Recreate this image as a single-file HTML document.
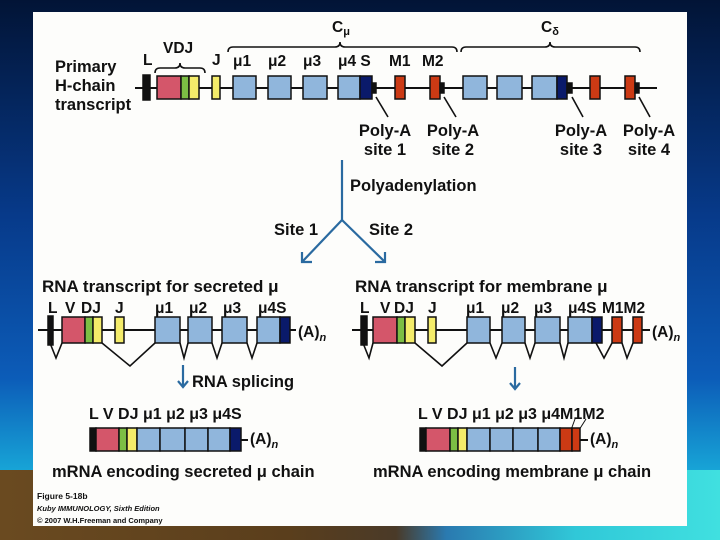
<!DOCTYPE html>
<html><head><meta charset="utf-8"><style>
body{margin:0;width:720px;height:540px;overflow:hidden;background:linear-gradient(180deg,#021436 0%,#073a8a 40%,#0c5cb8 70%,#18a8d8 88%,#3ad8e0 100%);position:relative;font-family:"Liberation Sans",sans-serif}
.brown{position:absolute;left:0;top:470px;width:720px;height:70px;background:linear-gradient(90deg,#6a4a20 0%,#5a3e1c 40%,#4a3a28 55%,#2a7ab0 62%,#30c8d8 80%,#40e0e0 100%)}
svg{position:absolute;left:0;top:0}
text{font-family:"Liberation Sans",sans-serif;font-weight:bold;fill:#111}
</style></head><body>
<div class="brown"></div>
<svg width="720" height="540" viewBox="0 0 720 540">
<rect x="33" y="12" width="654" height="514" fill="#fdfdfb"/>
<g stroke="#111" stroke-width="1.6" fill="none">
<line x1="135" y1="88" x2="657" y2="88" stroke-width="2"/>
<path d="M155 73 q0-5 5-5 h15 q5 0 5-5 q0 5 5 5 h15 q5 0 5 5"/>
<path d="M228 52 q0-5 5-5 h102 q5 0 5-5 q0 5 5 5 h107 q5 0 5 5"/>
<path d="M461 52 q0-5 5-5 h79 q5 0 5-5 q0 5 5 5 h80 q5 0 5 5"/>
<line x1="376" y1="97" x2="388" y2="117"/><line x1="444" y1="97" x2="456" y2="117"/>
<line x1="572" y1="97" x2="583" y2="117"/><line x1="639" y1="97" x2="650" y2="117"/>
<line x1="38" y1="330" x2="296" y2="330" stroke-width="2"/>
<line x1="352" y1="330" x2="650" y2="330" stroke-width="2"/>
<line x1="241" y1="440" x2="248" y2="440" stroke-width="2"/>
<line x1="580" y1="440" x2="588" y2="440" stroke-width="2"/>
<polyline points="50,343 56,358 62,343"/><polyline points="102,343 130,366 155,343"/>
<polyline points="180,343 184,358 188,343"/><polyline points="212,343 217,358 222,343"/><polyline points="247,343 252,358 257,343"/>
<polyline points="363,343 369,358 373,343"/><polyline points="415,343 442,366 467,343"/>
<polyline points="490,343 496,358 502,343"/><polyline points="525,343 530,358 535,343"/><polyline points="560,343 564,358 568,343"/>
<polyline points="596,343 604,358 612,343"/><polyline points="622,343 627,358 633,343"/>
<line x1="571" y1="430" x2="575" y2="419" stroke-width="1"/><line x1="579" y1="430" x2="586" y2="419" stroke-width="1"/>
</g>
<g stroke="#2a6aa0" stroke-width="2.2" fill="none">
<line x1="342" y1="160" x2="342" y2="220"/><line x1="342" y1="220" x2="302" y2="262"/><line x1="342" y1="220" x2="385" y2="262"/>
<polyline points="302,252 302,262 312,262"/><polyline points="375,262 385,262 385,252"/>
<line x1="183" y1="365" x2="183" y2="386"/><polyline points="178,381 183,387 188,381"/>
<line x1="515" y1="367" x2="515" y2="388"/><polyline points="510,383 515,389 520,383"/>
</g>
<g stroke="#111" stroke-width="1.5">
<rect x="143" y="75" width="7" height="25" fill="#111"/>
<rect x="157" y="76" width="24" height="23" fill="#d4566a"/><rect x="181" y="76" width="8" height="23" fill="#7cbe44"/><rect x="189" y="76" width="10" height="23" fill="#f4ec6a"/>
<rect x="212" y="76" width="8" height="23" fill="#f4ec6a"/>
<rect x="233" y="76" width="23" height="23" fill="#90b6dc"/><rect x="268" y="76" width="23" height="23" fill="#90b6dc"/><rect x="303" y="76" width="24" height="23" fill="#90b6dc"/>
<rect x="338" y="76" width="22" height="23" fill="#90b6dc"/><rect x="360" y="76" width="12" height="23" fill="#0a1a6a"/><rect x="372" y="83" width="4" height="10" fill="#111"/>
<rect x="395" y="76" width="10" height="23" fill="#cc3a14"/><rect x="430" y="76" width="10" height="23" fill="#cc3a14"/><rect x="440" y="83" width="4" height="10" fill="#111"/>
<rect x="463" y="76" width="24" height="23" fill="#90b6dc"/><rect x="497" y="76" width="25" height="23" fill="#90b6dc"/><rect x="532" y="76" width="25" height="23" fill="#90b6dc"/><rect x="557" y="76" width="10" height="23" fill="#0a1a6a"/><rect x="567" y="83" width="5" height="10" fill="#111"/>
<rect x="590" y="76" width="10" height="23" fill="#cc3a14"/><rect x="625" y="76" width="10" height="23" fill="#cc3a14"/><rect x="635" y="83" width="4" height="10" fill="#111"/>
<rect x="48" y="316" width="5" height="29" fill="#111"/>
<rect x="62" y="317" width="23" height="26" fill="#d4566a"/><rect x="85" y="317" width="8" height="26" fill="#7cbe44"/><rect x="93" y="317" width="9" height="26" fill="#f4ec6a"/>
<rect x="115" y="317" width="9" height="26" fill="#f4ec6a"/>
<rect x="155" y="317" width="25" height="26" fill="#90b6dc"/><rect x="188" y="317" width="24" height="26" fill="#90b6dc"/><rect x="222" y="317" width="25" height="26" fill="#90b6dc"/><rect x="257" y="317" width="23" height="26" fill="#90b6dc"/><rect x="280" y="317" width="10" height="26" fill="#0a1a6a"/>
<rect x="361" y="316" width="6" height="29" fill="#111"/>
<rect x="373" y="317" width="24" height="26" fill="#d4566a"/><rect x="397" y="317" width="8" height="26" fill="#7cbe44"/><rect x="405" y="317" width="10" height="26" fill="#f4ec6a"/>
<rect x="428" y="317" width="8" height="26" fill="#f4ec6a"/>
<rect x="467" y="317" width="23" height="26" fill="#90b6dc"/><rect x="502" y="317" width="23" height="26" fill="#90b6dc"/><rect x="535" y="317" width="25" height="26" fill="#90b6dc"/><rect x="568" y="317" width="24" height="26" fill="#90b6dc"/><rect x="592" y="317" width="10" height="26" fill="#0a1a6a"/>
<rect x="612" y="317" width="10" height="26" fill="#cc3a14"/><rect x="633" y="317" width="9" height="26" fill="#cc3a14"/>
<rect x="90" y="428" width="6" height="23" fill="#111"/><rect x="96" y="428" width="23" height="23" fill="#d4566a"/><rect x="119" y="428" width="8" height="23" fill="#7cbe44"/><rect x="127" y="428" width="10" height="23" fill="#f4ec6a"/>
<rect x="137" y="428" width="23" height="23" fill="#90b6dc"/><rect x="160" y="428" width="25" height="23" fill="#90b6dc"/><rect x="185" y="428" width="23" height="23" fill="#90b6dc"/><rect x="208" y="428" width="22" height="23" fill="#90b6dc"/><rect x="230" y="428" width="11" height="23" fill="#0a1a6a"/>
<rect x="420" y="428" width="6" height="23" fill="#111"/><rect x="426" y="428" width="24" height="23" fill="#d4566a"/><rect x="450" y="428" width="8" height="23" fill="#7cbe44"/><rect x="458" y="428" width="9" height="23" fill="#f4ec6a"/>
<rect x="467" y="428" width="23" height="23" fill="#90b6dc"/><rect x="490" y="428" width="23" height="23" fill="#90b6dc"/><rect x="513" y="428" width="25" height="23" fill="#90b6dc"/><rect x="538" y="428" width="22" height="23" fill="#90b6dc"/><rect x="560" y="428" width="12" height="23" fill="#cc3a14"/><rect x="572" y="428" width="8" height="23" fill="#cc3a14"/>
</g>
<g font-size="15.5">
<text x="55" y="72" font-size="16.5">Primary</text><text x="55" y="91" font-size="16.5">H-chain</text><text x="55" y="110" font-size="16.5">transcript</text>
<text x="143" y="65">L</text><text x="163" y="53">VDJ</text><text x="212" y="65">J</text>
<text x="233" y="66">μ1</text><text x="268" y="66">μ2</text><text x="303" y="66">μ3</text><text x="338" y="66">μ4 S</text>
<text x="389" y="66">M1</text><text x="422" y="66">M2</text>
<text x="332" y="32">C<tspan font-size="11" dy="3">μ</tspan></text><text x="541" y="32">C<tspan font-size="11" dy="3">δ</tspan></text>
<g text-anchor="middle" font-size="16.5"><text x="385" y="136">Poly-A</text><text x="385" y="155">site 1</text><text x="453" y="136">Poly-A</text><text x="453" y="155">site 2</text>
<text x="581" y="136">Poly-A</text><text x="581" y="155">site 3</text><text x="649" y="136">Poly-A</text><text x="649" y="155">site 4</text></g>
<text x="350" y="191" font-size="16.5">Polyadenylation</text>
<text x="274" y="235" font-size="16.5">Site 1</text><text x="369" y="235" font-size="16.5">Site 2</text>
<text x="42" y="292" font-size="17">RNA transcript for secreted μ</text>
<text x="355" y="292" font-size="17">RNA transcript for membrane μ</text>
<text x="48" y="313">L</text><text x="65" y="313">V</text><text x="81" y="313">DJ</text><text x="115" y="313">J</text>
<text x="155" y="313">μ1</text><text x="189" y="313">μ2</text><text x="223" y="313">μ3</text><text x="258" y="313">μ4S</text>
<text x="360" y="313">L</text><text x="380" y="313">V</text><text x="394" y="313">DJ</text><text x="428" y="313">J</text>
<text x="466" y="313">μ1</text><text x="501" y="313">μ2</text><text x="534" y="313">μ3</text><text x="568" y="313">μ4S</text><text x="602" y="313">M1M2</text>
<text x="298" y="337">(A)<tspan font-size="11" font-style="italic" dy="4">n</tspan></text>
<text x="652" y="337">(A)<tspan font-size="11" font-style="italic" dy="4">n</tspan></text>
<text x="192" y="387" font-size="16.5">RNA splicing</text>
<text x="89" y="419" font-size="16">L V DJ μ1 μ2 μ3 μ4S</text>
<text x="418" y="419" font-size="16">L V DJ μ1 μ2 μ3 μ4M1M2</text>
<text x="250" y="444">(A)<tspan font-size="11" font-style="italic" dy="4">n</tspan></text>
<text x="590" y="444">(A)<tspan font-size="11" font-style="italic" dy="4">n</tspan></text>
<text x="52" y="477" font-size="16.5">mRNA encoding secreted μ chain</text>
<text x="373" y="477" font-size="16.5">mRNA encoding membrane μ chain</text>
<text x="37" y="499" font-size="8.5">Figure 5-18b</text>
<text x="37" y="511" font-size="7.5" font-style="italic">Kuby IMMUNOLOGY, Sixth Edition</text>
<text x="37" y="523" font-size="7.5" font-weight="normal" fill="#333">© 2007 W.H.Freeman and Company</text>
</g>
</svg>
</body></html>
